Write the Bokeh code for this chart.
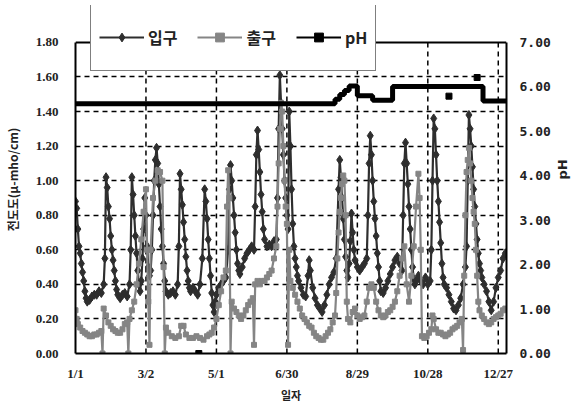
import math
from bokeh.plotting import figure
from bokeh.models import (ColumnDataSource, Range1d, LinearAxis, FixedTicker,
                          Legend, LegendItem, NumeralTickFormatter, Span)
from bokeh.embed import file_html
from bokeh.resources import INLINE

# ---------------- data (day of year, value) ----------------
tick_days = [0, 60, 120, 180, 240, 300, 360]
tick_labels = ["1/1", "3/2", "5/1", "6/30", "8/29", "10/28", "12/27"]
cond_ticks = [0.0, 0.2, 0.4, 0.6, 0.8, 1.0, 1.2, 1.4, 1.6, 1.8]
ph_ticks = [0, 1, 2, 3, 4, 5, 6, 7]
cond_max = 1.8
ph_max = 7
day_max = 367

# 입구 (inlet conductivity)
inlet = [
    (0, 0.88), (1, 0.84), (2, 0.72), (3, 0.62), (4, 0.58), (5, 0.52), (6, 0.47), (7, 0.42), (8, 0.36), (9, 0.32),
    (10, 0.30), (12, 0.31), (14, 0.33), (16, 0.34), (18, 0.34), (20, 0.36), (22, 0.35), (24, 0.40), (25, 0.55),
    (26, 1.02), (27, 0.96), (28, 0.85), (29, 0.78), (30, 0.68), (31, 0.60), (32, 0.54), (33, 0.48), (34, 0.42),
    (35, 0.37), (36, 0.34), (38, 0.32), (40, 0.34), (42, 0.35), (44, 0.33), (46, 0.40), (47, 0.60),
    (48, 1.02), (49, 0.92), (50, 0.80), (51, 0.68), (52, 0.58), (53, 0.48), (54, 0.40), (55, 0.36), (56, 0.42),
    (57, 0.55), (58, 0.72), (59, 0.90), (60, 0.80), (61, 0.62), (62, 0.50), (63, 0.45), (64, 0.48), (65, 0.60),
    (66, 0.80), (67, 1.00), (68, 1.12), (69, 1.19), (70, 1.10), (71, 0.98), (72, 0.85), (73, 0.72), (74, 0.62),
    (75, 0.52), (76, 0.42), (77, 0.36), (79, 0.34), (81, 0.35), (83, 0.36), (85, 0.34), (87, 0.40), (88, 0.62),
    (89, 1.04), (90, 0.95), (91, 0.86), (92, 0.76), (93, 0.66), (94, 0.56), (95, 0.48), (96, 0.42), (97, 0.38),
    (98, 0.36), (100, 0.38), (102, 0.36), (104, 0.34), (106, 0.40), (108, 0.55),
    (110, 0.95), (111, 0.88), (112, 0.78), (113, 0.66), (114, 0.55), (115, 0.45), (116, 0.35), (117, 0.28),
    (118, 0.24), (119, 0.30), (120, 0.34), (122, 0.38), (124, 0.40), (126, 0.42), (128, 0.44), (130, 0.60),
    (131, 0.95), (132, 1.09), (133, 1.00), (134, 0.90), (135, 0.80), (136, 0.70), (137, 0.60), (138, 0.52),
    (139, 0.48), (140, 0.46), (142, 0.50), (144, 0.55), (146, 0.58), (148, 0.60), (150, 0.62), (152, 0.60), (153, 0.85),
    (154, 1.15), (155, 1.29), (156, 1.18), (157, 1.05), (158, 0.92), (159, 0.82), (160, 0.72), (161, 0.66),
    (163, 0.62), (165, 0.63), (167, 0.62), (169, 0.65), (171, 0.66), (172, 0.90),
    (173, 1.30), (174, 1.61), (175, 1.45), (176, 1.30), (177, 1.15), (178, 1.00), (179, 0.90), (180, 0.80),
    (181, 0.72), (182, 1.40), (183, 1.20), (184, 0.95), (185, 0.75), (186, 0.62), (187, 0.55), (188, 0.50),
    (189, 0.45), (190, 0.42), (192, 0.38), (194, 0.34), (196, 0.33), (198, 0.45), (199, 0.54), (200, 0.48),
    (202, 0.38), (204, 0.32), (206, 0.28), (208, 0.26), (210, 0.24), (212, 0.28), (214, 0.34), (216, 0.40),
    (218, 0.44), (220, 0.47), (222, 0.55),
    (224, 0.95), (225, 1.12), (226, 1.02), (227, 0.90), (228, 0.78), (229, 0.66), (230, 0.56), (231, 0.48),
    (232, 0.44), (233, 0.52), (234, 0.65), (235, 0.81), (236, 0.70), (237, 0.60), (238, 0.54), (240, 0.50),
    (242, 0.48), (244, 0.50), (246, 0.52), (248, 0.55), (249, 0.80),
    (250, 1.10), (251, 1.26), (252, 1.15), (253, 1.00), (254, 0.88), (255, 0.78), (256, 0.68), (257, 0.58),
    (258, 0.50), (259, 0.42), (260, 0.36), (262, 0.35), (264, 0.38), (266, 0.42), (268, 0.46), (270, 0.50),
    (272, 0.54), (274, 0.56), (276, 0.52), (278, 0.48), (279, 0.80),
    (280, 1.10), (281, 1.22), (282, 1.10), (283, 0.98), (284, 0.85), (285, 0.72), (286, 0.60), (287, 0.50),
    (288, 0.43), (289, 0.40), (290, 0.42), (292, 0.45), (294, 0.42), (296, 0.40), (298, 0.44), (300, 0.40),
    (302, 0.42), (303, 0.60), (304, 1.00),
    (305, 1.36), (306, 1.30), (307, 1.15), (308, 1.00), (309, 0.88), (310, 0.76), (311, 0.64), (312, 0.52),
    (313, 0.44), (314, 0.40), (316, 0.38), (318, 0.34), (320, 0.30), (322, 0.26), (324, 0.25), (326, 0.28),
    (328, 0.32), (330, 0.40), (332, 0.50), (333, 0.62), (334, 1.00),
    (335, 1.38), (336, 1.30), (337, 1.20), (338, 1.08), (339, 0.95), (340, 0.85), (341, 0.75), (342, 0.66),
    (343, 0.58), (344, 0.52), (345, 0.48), (346, 0.44), (348, 0.40), (350, 0.36), (352, 0.30), (354, 0.25),
    (356, 0.30), (358, 0.38), (360, 0.44), (362, 0.48), (364, 0.55), (366, 0.58),
]

# 출구 (outlet conductivity)
outlet = [
    (0, 0.25), (1, 0.20), (2, 0.17), (4, 0.15), (6, 0.13), (8, 0.12), (10, 0.11), (12, 0.10), (14, 0.10),
    (16, 0.11), (18, 0.11), (20, 0.12), (22, 0.13), (23, 0.00), (24, 0.26), (26, 0.22), (28, 0.18), (30, 0.16),
    (32, 0.14), (34, 0.13), (36, 0.12), (38, 0.12), (40, 0.14), (42, 0.17), (44, 0.18), (45, 0.00), (46, 0.20),
    (48, 0.25), (50, 0.30), (52, 0.40), (54, 0.52), (56, 0.66), (58, 0.82), (60, 0.95), (61, 0.60), (62, 0.30),
    (63, 0.05), (64, 0.60), (66, 0.90), (68, 1.00), (70, 1.06), (72, 1.05), (74, 1.00), (75, 0.50), (76, 0.00),
    (77, 0.15), (79, 0.12), (82, 0.10), (85, 0.09), (88, 0.10), (90, 0.16), (92, 0.16), (94, 0.11), (97, 0.09),
    (100, 0.09), (103, 0.10), (106, 0.09), (109, 0.08), (112, 0.10), (114, 0.11), (116, 0.12), (118, 0.15),
    (120, 0.20), (122, 0.28), (124, 0.36), (126, 0.44), (128, 0.48), (129, 0.85), (130, 1.06), (131, 0.90),
    (132, 0.00), (133, 0.30), (135, 0.26), (137, 0.24), (139, 0.22), (141, 0.20), (143, 0.22), (145, 0.25),
    (147, 0.28), (149, 0.30), (151, 0.32), (152, 0.05), (153, 0.40), (155, 0.42), (157, 0.40), (159, 0.42),
    (161, 0.42), (163, 0.44), (165, 0.46), (167, 0.48), (169, 0.55), (171, 0.62), (172, 0.85), (173, 1.10),
    (174, 1.30), (175, 1.45), (176, 1.40), (177, 1.20), (178, 1.00), (179, 0.85), (180, 0.75), (181, 0.05),
    (182, 0.60), (183, 0.42), (185, 0.38), (187, 0.34), (189, 0.30), (191, 0.26), (193, 0.22), (195, 0.20),
    (197, 0.18), (199, 0.16), (201, 0.15), (203, 0.12), (205, 0.10), (207, 0.09), (209, 0.08), (211, 0.08),
    (213, 0.10), (215, 0.12), (217, 0.14), (219, 0.18), (221, 0.22), (222, 0.35), (223, 0.55), (224, 0.70),
    (225, 0.82), (226, 0.90), (227, 0.98), (228, 1.03), (229, 1.00), (230, 0.80), (231, 0.30), (232, 0.20),
    (234, 0.18), (236, 0.24), (238, 0.26), (240, 0.22), (242, 0.20), (244, 0.21), (246, 0.22), (248, 0.30),
    (250, 0.38), (252, 0.40), (254, 0.38), (256, 0.30), (258, 0.25), (260, 0.22), (262, 0.21), (264, 0.22),
    (266, 0.24), (268, 0.25), (270, 0.27), (272, 0.30), (274, 0.36), (276, 0.45), (278, 0.55), (280, 0.62),
    (282, 0.40), (284, 0.30), (286, 0.45), (288, 0.62), (290, 0.85), (292, 1.04), (293, 0.90), (294, 0.60),
    (295, 0.10), (297, 0.09), (299, 0.10), (301, 0.12), (303, 0.14), (304, 0.22), (305, 0.20), (307, 0.14),
    (309, 0.12), (311, 0.12), (313, 0.11), (315, 0.10), (317, 0.11), (319, 0.12), (321, 0.14), (323, 0.15),
    (325, 0.16), (327, 0.18), (329, 0.20), (330, 0.02), (331, 0.45), (332, 0.80), (333, 1.05), (334, 1.12),
    (335, 1.19), (336, 1.10), (337, 1.00), (338, 0.90), (339, 0.82), (340, 0.75), (341, 0.60), (342, 0.45),
    (343, 0.30), (344, 0.25), (346, 0.22), (348, 0.20), (350, 0.18), (352, 0.17), (354, 0.18), (356, 0.20),
    (358, 0.21), (360, 0.22), (362, 0.23), (364, 0.25), (366, 0.26),
]

# pH (step changes) and isolated readings
ph_days = [0, 221, 225, 229, 233, 240, 253, 270, 347, 367]
ph_vals = [5.62, 5.72, 5.83, 5.92, 6.02, 5.80, 5.70, 6.01, 5.68, 5.68]
ph_extra_days = [105, 318, 342]
ph_extra_vals = [0.0, 5.79, 6.21]

# ---------------- figure ----------------
INLET_C = "#2e2e2e"
OUTLET_C = "#858585"

FRAME_H = 349          # px, frame height (includes headroom for the legend)
AXIS_H = 312           # px, height of the 0..1.8 axis
top_frac = FRAME_H / AXIS_H

p = figure(width=580, height=405, output_backend="svg", toolbar_location=None,
           x_range=Range1d(0, day_max), y_range=Range1d(0, cond_max * top_frac),
           min_border_left=75, min_border_right=73, min_border_top=5, min_border_bottom=51,
           background_fill_color="white", border_fill_color="white")
p.extra_y_ranges = {"ph": Range1d(0, ph_max * top_frac)}
p.outline_line_color = None

src_in = ColumnDataSource(dict(x=[d for d, _ in inlet], y=[v for _, v in inlet]))
src_out = ColumnDataSource(dict(x=[d for d, _ in outlet], y=[v for _, v in outlet]))
src_ph = ColumnDataSource(dict(x=ph_days, y=ph_vals))
src_phx = ColumnDataSource(dict(x=ph_extra_days, y=ph_extra_vals))

# vertical dashed grid lines, only up to the top of the plot box
p.segment(x0=tick_days[1:], y0=[0] * (len(tick_days) - 1), x1=tick_days[1:],
          y1=[cond_max] * (len(tick_days) - 1), line_color="black", line_dash="5 4", line_width=1.5)
# top border of the plot box
p.add_layout(Span(location=cond_max, dimension="width", line_color="black", line_width=2))

r_in_l = p.line("x", "y", source=src_in, line_color=INLET_C, line_width=2.2)
r_in_m = p.scatter("x", "y", source=src_in, marker="diamond", size=9,
                   fill_color=INLET_C, line_color=INLET_C)
r_out_l = p.line("x", "y", source=src_out, line_color=OUTLET_C, line_width=2.2)
r_out_m = p.scatter("x", "y", source=src_out, marker="square", size=5,
                    fill_color=OUTLET_C, line_color=OUTLET_C)
r_ph_l = p.step("x", "y", source=src_ph, mode="after", y_range_name="ph",
                line_color="black", line_width=5)
# thin copy (hidden under the thick line) used for the legend glyph
r_ph_thin = p.step("x", "y", source=src_ph, mode="after", y_range_name="ph",
                   line_color="black", line_width=2)
r_ph_m = p.scatter("x", "y", source=src_phx, marker="square", size=6, y_range_name="ph",
                   fill_color="black", line_color="black")

# axes
p.xaxis.ticker = FixedTicker(ticks=tick_days)
p.xaxis.major_label_overrides = {d: lab for d, lab in zip(tick_days, tick_labels)}
p.xaxis.axis_label = "일자"
p.yaxis.ticker = FixedTicker(ticks=cond_ticks)
p.yaxis.formatter = NumeralTickFormatter(format="0.00")
p.yaxis.axis_label = "전도도(μ-mho/cm)"
p.yaxis.bounds = (0, cond_max)

ax_r = LinearAxis(y_range_name="ph", ticker=FixedTicker(ticks=ph_ticks),
                  formatter=NumeralTickFormatter(format="0.00"), axis_label="pH",
                  bounds=(0, ph_max))
p.add_layout(ax_r, "right")

for ax in [p.xaxis[0], p.yaxis[0], ax_r]:
    ax.major_tick_line_color = None
    ax.minor_tick_line_color = None
    ax.major_tick_out = 0
    ax.major_tick_in = 0
    ax.minor_tick_out = 0
    ax.minor_tick_in = 0
    ax.axis_line_color = "black"
    ax.axis_line_width = 2
    ax.major_label_text_font_style = "bold"
    ax.major_label_text_color = "#222222"
    ax.axis_label_text_font_style = "bold"
    ax.axis_label_text_color = "#222222"

p.xaxis.major_label_standoff = 12
p.xaxis.major_label_text_font = "Liberation Serif"
p.xaxis.major_label_text_font_size = "13px"
p.xaxis.axis_label_text_font = "Noto Sans CJK KR"
p.xaxis.axis_label_text_font_size = "11px"
p.xaxis.axis_label_standoff = 3
p.yaxis.major_label_standoff = 17
p.yaxis.major_label_text_font = "Liberation Serif"
p.yaxis.major_label_text_font_size = "13px"
p.yaxis.axis_label_text_font = "Noto Sans CJK KR"
p.yaxis.axis_label_text_font_size = "12px"
p.yaxis.axis_label_standoff = 12
ax_r.major_label_standoff = 13
ax_r.major_label_text_font = "DejaVu Sans Mono"
ax_r.major_label_text_font_size = "13px"
ax_r.axis_label_text_font = "DejaVu Sans"
ax_r.axis_label_text_font_size = "13px"
ax_r.axis_label_standoff = 9
if "axis_label_orientation" in ax_r.properties():
    ax_r.axis_label_orientation = math.pi / 2

# horizontal dashed grid
p.xgrid.grid_line_color = None
p.ygrid.ticker = FixedTicker(ticks=cond_ticks[1:-1])
p.ygrid.grid_line_color = "black"
p.ygrid.grid_line_dash = "5 4"
p.ygrid.grid_line_width = 1.5

# legend
legend = Legend(items=[
    LegendItem(label="입구", renderers=[r_in_l, r_in_m]),
    LegendItem(label="출구", renderers=[r_out_l, r_out_m]),
    LegendItem(label="pH", renderers=[r_ph_thin, r_ph_m]),
], orientation="horizontal", location=(15, 282))
legend.label_text_font = "Noto Sans CJK KR"
legend.label_text_font_size = "16px"
legend.label_text_font_style = "bold"
legend.label_text_color = "#222222"
legend.glyph_width = 45
legend.glyph_height = 22
legend.label_height = 50
legend.label_standoff = 4
legend.spacing = 20
legend.padding = 8
legend.margin = 0
legend.border_line_color = "black"
legend.border_line_width = 1.5
legend.background_fill_alpha = 1.0
p.add_layout(legend, "center")

open("out.html", "w").write(file_html(p, INLINE))
